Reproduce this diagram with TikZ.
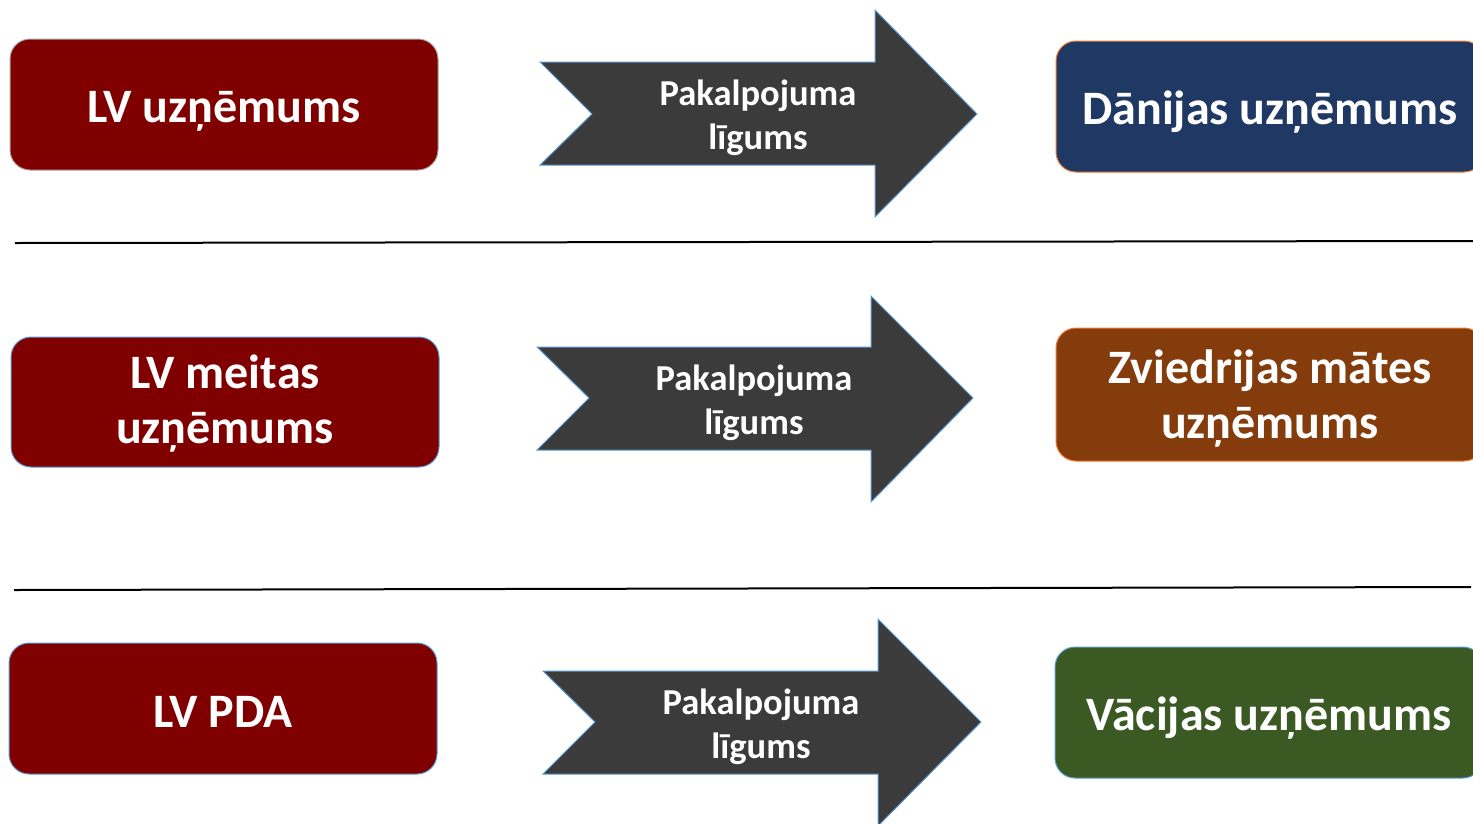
\documentclass[tikz,border=0pt]{standalone}
\usepackage{fontspec}
\setmainfont{Carlito}
\usepackage{tikz}
\definecolor{lvred}{HTML}{800000}
\definecolor{dknavy}{HTML}{203864}
\definecolor{sebrown}{HTML}{843C0C}
\definecolor{degreen}{HTML}{3B5A23}
\definecolor{arrowgray}{HTML}{3B3B3B}
\definecolor{edgeblue}{HTML}{5B9BD5}
\definecolor{edgeorange}{HTML}{ED7D31}
\tikzset{
  company/.style={draw=edgeblue, line width=1pt, rounded corners=20pt,
    minimum width=428pt, inner sep=0pt},
  companytext/.style={text=white, align=center, inner sep=0pt, anchor=base,
    font=\bfseries\fontsize{48}{55}\selectfont},
  contract/.style={fill=arrowgray, draw=edgeblue, line width=1pt},
  contracttext/.style={text=white, align=center, inner sep=0pt, anchor=base,
    font=\bfseries\fontsize{36.5}{44}\selectfont}
}
\begin{document}
\begin{tikzpicture}[x=1pt,y=-1pt]
  \useasboundingbox (0,0) rectangle (1473,823);
  \clip (0,0) rectangle (1473,823);
  % left side
  \node [company, fill=lvred, draw=gray!70, minimum height=131pt] (lv) at (224,104.5) {};
  \node [companytext, yshift=-17.5pt] (lvtext) at (lv.center) {LV uzņēmums};
  \node [company, fill=lvred, minimum height=130pt] (lvmeitas) at (225,402) {};
  \node [companytext, yshift=-41pt] (lvmeitastext) at (lvmeitas.center) {LV meitas\\uzņēmums};
  \node [company, fill=lvred, minimum height=131pt] (lvpda) at (223,708.5) {};
  \node [companytext, yshift=-18.5pt] (lvpdatext) at (lvpda.center) {LV PDA};
  % right side
  \node [company, fill=dknavy, draw=edgeorange, minimum height=131pt] (dk) at (1270,106.5) {};
  \node [companytext, yshift=-17.5pt] (dktext) at (dk.center) {Dānijas uzņēmums};
  \node [company, fill=sebrown, draw=edgeorange, minimum height=133pt] (se) at (1270,394.5) {};
  \node [companytext, yshift=-43.5pt] (setext) at (se.center) {Zviedrijas mātes\\uzņēmums};
  \node [company, fill=degreen, minimum height=131pt] (de) at (1269,712.5) {};
  \node [companytext, yshift=-17.5pt] (detext) at (de.center) {Vācijas uzņēmums};
  % contract arrows
  \draw [contract] (540,62) -- (875,62) -- (875,10) -- (977,114) -- (875,217) -- (875,165) -- (540,165) -- (592,114) -- cycle;
  \node [contracttext] (c1) at (758,149) {Pakalpojuma\\līgums};
  \draw [contract] (537,347) -- (871,347) -- (871,296) -- (973,398) -- (871,502) -- (871,450) -- (537,450) -- (589,398) -- cycle;
  \node [contracttext] (c2) at (754,434) {Pakalpojuma\\līgums};
  \draw [contract] (543,671) -- (878,671) -- (878,619) -- (981,722) -- (878,826) -- (878,774) -- (543,774) -- (595,722) -- cycle;
  \node [contracttext] (c3) at (761,758) {Pakalpojuma\\līgums};
  % separators
  \draw [line width=2pt] (15,243) -- (1473,241);
  \draw [line width=2pt] (14,590) -- (1471,587);
\end{tikzpicture}
\end{document}
